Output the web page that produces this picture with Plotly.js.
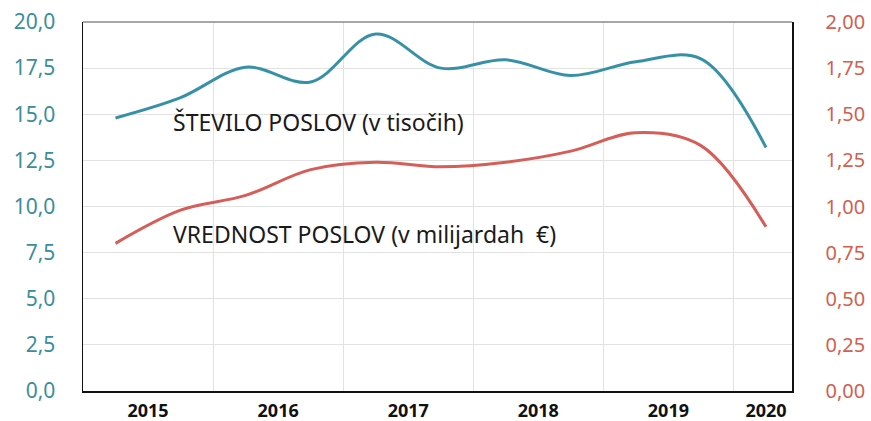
<!DOCTYPE html>
<html>
<head>
<meta charset="utf-8">
<script src="https://cdn.plot.ly/plotly-3.0.1.min.js"></script>
<style>
html,body{margin:0;padding:0;background:#fff;}
#chart{width:871px;height:421px;}
</style>
</head>
<body>
<div id="chart"></div>
<script>
// Half-year periods (2015 H1 ... 2020 H1)
const periods = ['2015 H1','2015 H2','2016 H1','2016 H2','2017 H1','2017 H2','2018 H1','2018 H2','2019 H1','2019 H2','2020 H1'];
const steviloPoslov = [14.8, 15.9, 17.55, 16.75, 19.35, 17.5, 17.95, 17.1, 17.85, 18.0, 13.2];   // v tisočih
const vrednostPoslov = [0.80, 0.98, 1.06, 1.20, 1.24, 1.215, 1.24, 1.30, 1.40, 1.33, 0.89];    // v milijardah €
const yearLabels = ['2015','2016','2017','2018','2019','2020'];
const yearPos = [0.5, 2.5, 4.5, 6.5, 8.5, 10];
const yearBounds = [1.5, 3.5, 5.5, 7.5, 9.5];
const leftTicks = [0, 2.5, 5, 7.5, 10, 12.5, 15, 17.5, 20];
const rightTicks = [0, 0.25, 0.5, 0.75, 1, 1.25, 1.5, 1.75, 2];

const xIdx = periods.map((_, i) => i);
const FONT = 'Noto Sans, Open Sans, sans-serif';
const TEAL = '#3791a6';
const RED = '#d65d58';

const traces = [
  {x: xIdx, y: steviloPoslov, type: 'scatter', mode: 'lines', yaxis: 'y',
   line: {color: TEAL, width: 3, shape: 'spline', smoothing: 1}, hoverinfo: 'y'},
  {x: xIdx, y: vrednostPoslov, type: 'scatter', mode: 'lines', yaxis: 'y2',
   line: {color: RED, width: 3, shape: 'spline', smoothing: 1}, hoverinfo: 'y'}
];

const layout = {
  width: 871, height: 421,
  margin: {l: 83, r: 79, t: 22, b: 30},
  paper_bgcolor: '#fff', plot_bgcolor: '#fff',
  separators: ',.',
  showlegend: false,
  font: {family: FONT},
  xaxis: {
    range: [-0.5, 10.4], tickmode: 'array', tickvals: yearPos, ticktext: yearLabels,
    showgrid: false, zeroline: false, showline: true, linecolor: '#111', linewidth: 1.5,
    ticks: '', ticklabelstandoff: 3,
    tickfont: {family: FONT, size: 18, color: '#111', weight: 'bold'},
    minor: {tickmode: 'array', tickvals: yearBounds, showgrid: true, gridcolor: '#e2e2e2', gridwidth: 1, ticks: ''}
  },
  yaxis: {
    range: [0, 20], tickmode: 'array', tickvals: leftTicks, tickformat: '.1f',
    showgrid: true, gridcolor: '#e2e2e2', zeroline: false,
    showline: true, linecolor: '#111', linewidth: 1.5, ticks: '', ticklabelstandoff: 22,
    tickfont: {family: FONT, size: 21, color: '#3a8e9c'}
  },
  yaxis2: {
    range: [0, 2], overlaying: 'y', side: 'right', tickmode: 'array', tickvals: rightTicks, tickformat: '.2f',
    showgrid: false, zeroline: false, showline: true, linecolor: '#111', linewidth: 1.5,
    ticks: '', ticklabelstandoff: 28,
    tickfont: {family: FONT, size: 20, color: '#d0614f'}
  },
  shapes: [
    {type: 'line', xref: 'paper', yref: 'paper', x0: 0, x1: 1, y0: 1, y1: 1, line: {color: '#8a8a8a', width: 1.5}}
  ],
  annotations: [
    {text: 'ŠTEVILO POSLOV (v tisočih)', xref: 'paper', yref: 'y', x: 0.124, y: 14.6, xanchor: 'left', yanchor: 'middle',
     showarrow: false, font: {family: FONT, size: 23, color: '#1a1a1a'}},
    {text: 'VREDNOST POSLOV (v milijardah  €)', xref: 'paper', yref: 'y', x: 0.124, y: 8.5, xanchor: 'left', yanchor: 'middle',
     showarrow: false, font: {family: FONT, size: 23, color: '#1a1a1a'}}
  ]
};

Plotly.newPlot('chart', traces, layout, {displayModeBar: false, staticPlot: true});
</script>
</body>
</html>
